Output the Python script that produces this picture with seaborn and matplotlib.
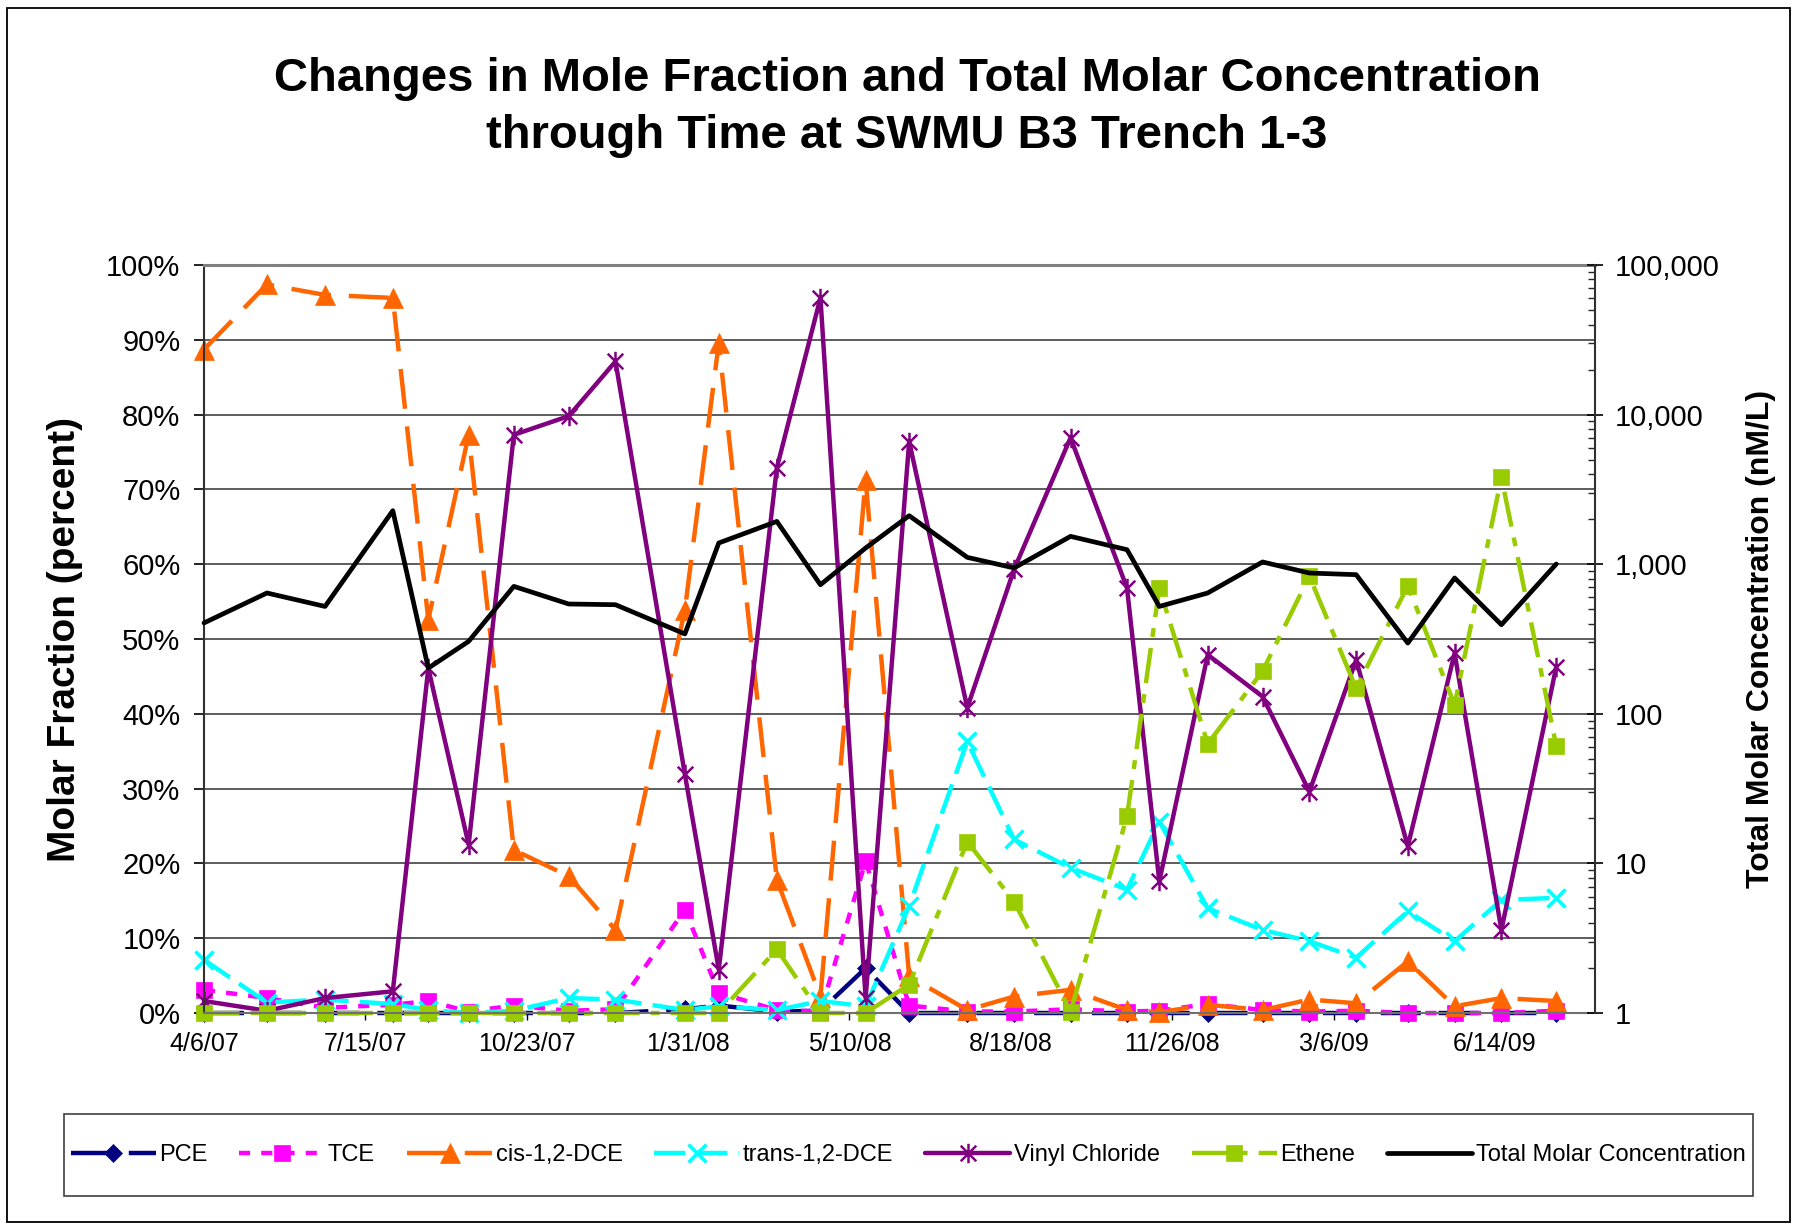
import pandas as pd
import numpy as np
import matplotlib
matplotlib.use("Agg")
import matplotlib.pyplot as plt
import matplotlib.ticker as mticker
from matplotlib.path import Path
from matplotlib.patches import Rectangle
import seaborn as sns

sns.set_theme(style="white")
plt.rcParams["font.family"] = ["Liberation Sans", "DejaVu Sans"]
plt.rcParams["text.color"] = "black"

# 1) Sampling events (read off the chart)
sample_dates = ["2007-04-06", "2007-05-15", "2007-06-20", "2007-08-01", "2007-08-23",
                "2007-09-17", "2007-10-15", "2007-11-18", "2007-12-17", "2008-01-29",
                "2008-02-19", "2008-03-26", "2008-04-22", "2008-05-20", "2008-06-16",
                "2008-07-22", "2008-08-20", "2008-09-24", "2008-10-29", "2008-11-18",
                "2008-12-18", "2009-01-21", "2009-02-19", "2009-03-20", "2009-04-21",
                "2009-05-20", "2009-06-18", "2009-07-22"]

# mole fractions (percent)
pce = [0, 0, 0, 0, 0, 0, 0, 0, 0, 0.5, 1.0, 0.2, 0.3, 6.0, 0, 0, 0, 0, 0, 0,
       0, 0, 0, 0, 0, 0, 0, 0]
tce = [3.1, 2.0, 0.7, 1.1, 1.6, 0.2, 1.0, 0.3, 0.5, 13.8, 2.7, 0.4, 0.2, 20.3,
       1.0, 0.2, 0.2, 0.5, 0.2, 0.3, 1.2, 0.4, 0.2, 0.3, 0.0, 0.0, 0.0, 0.3]
cis_dce = [88.7, 97.4, 96.0, 95.6, 52.6, 77.3, 21.8, 18.3, 11.1, 53.9, 89.6, 17.8,
           2.2, 71.3, 4.9, 0.4, 2.2, 3.1, 0.4, 0.1, 1.1, 0.4, 1.8, 1.3, 6.9, 0.9,
           2.0, 1.6]
trans_dce = [7.1, 1.4, 1.8, 1.2, 0.4, 0.0, 0.3, 2.0, 1.8, 0.4, 0.9, 0.4, 1.6, 0.9,
             14.3, 36.3, 23.2, 19.4, 16.5, 25.6, 14.0, 11.1, 9.6, 7.4, 13.6, 9.6,
             15.1, 15.4]
vinyl_chloride = [1.6, 0.3, 2.0, 2.9, 46.1, 22.5, 77.3, 79.8, 87.1, 31.9, 5.8, 72.9,
                  95.6, 2.0, 76.4, 40.8, 59.3, 76.9, 56.8, 17.6, 47.9, 42.3, 29.6,
                  47.2, 22.3, 48.1, 11.1, 46.3]
ethene = [0, 0, 0, 0, 0, 0, 0, 0, 0, 0, 0, 8.5, 0, 0, 3.8, 22.9, 14.9, 0.2, 26.3,
          56.8, 36.0, 45.7, 58.4, 43.4, 57.1, 41.2, 71.6, 35.7]

# total molar concentration (nM/L)
total_molar = [405, 642, 522, 2279, 202, 305, 711, 542, 536, 342, 1386, 1932, 729,
               1283, 2110, 1111, 944, 1535, 1250, 522, 642, 1035, 873, 851, 297, 809,
               394, 1003]

series_names = ["PCE", "TCE", "cis-1,2-DCE", "trans-1,2-DCE", "Vinyl Chloride", "Ethene"]

tick_dates = ["2007-04-06", "2007-07-15", "2007-10-23", "2008-01-31", "2008-05-10",
              "2008-08-18", "2008-11-26", "2009-03-06", "2009-06-14"]
tick_labels = ["4/6/07", "7/15/07", "10/23/07", "1/31/08", "5/10/08", "8/18/08",
               "11/26/08", "3/6/09", "6/14/09"]
pct_ticks = [0, 10, 20, 30, 40, 50, 60, 70, 80, 90, 100]
pct_labels = ["0%", "10%", "20%", "30%", "40%", "50%", "60%", "70%", "80%", "90%", "100%"]
conc_ticks = [1, 10, 100, 1000, 10000, 100000]
conc_labels = ["1", "10", "100", "1,000", "10,000", "100,000"]

df = pd.DataFrame({
    "date": pd.to_datetime(sample_dates),
    "PCE": pce,
    "TCE": tce,
    "cis-1,2-DCE": cis_dce,
    "trans-1,2-DCE": trans_dce,
    "Vinyl Chloride": vinyl_chloride,
    "Ethene": ethene,
    "Total Molar Concentration": total_molar,
})

# Excel-like "star" marker: an X with a vertical bar
star = Path([(-1, -1), (1, 1), (-1, 1), (1, -1), (0, -1.25), (0, 1.25)],
            [Path.MOVETO, Path.LINETO, Path.MOVETO, Path.LINETO, Path.MOVETO, Path.LINETO])

styles = {
    "PCE":            dict(color="#000080", marker="D", ms=9, mew=0.5, ls=(0, (9, 4))),
    "TCE":            dict(color="#FF00FF", marker="s", ms=12, mew=0.5, ls=(0, (2.5, 2.5))),
    "cis-1,2-DCE":    dict(color="#FF6600", marker="^", ms=15, mew=0.5, ls=(0, (9, 4))),
    "trans-1,2-DCE":  dict(color="#00FFFF", marker="x", ms=13, mew=2.5, ls=(0, (7, 2.5))),
    "Vinyl Chloride": dict(color="#800080", marker=star, ms=14, mew=1.8, ls="-"),
    "Ethene":         dict(color="#99CC00", marker="s", ms=11, mew=0.5, ls=(0, (8, 2.5, 2, 2.5))),
}

W, H = 1797, 1229
fig = plt.figure(figsize=(W / 100, H / 100), dpi=100)
ax = fig.add_axes([204 / W, 1 - 1013 / H, (1595 - 204) / W, (1013 - 265) / H])

handles = []
for name in series_names:
    st = styles[name]
    sns.lineplot(data=df, x="date", y=name, ax=ax, color=st["color"], marker=st["marker"],
                 markersize=st["ms"], markeredgecolor=st["color"], markerfacecolor=st["color"],
                 markeredgewidth=st["mew"], linewidth=3.2, linestyle=st["ls"], clip_on=False)
    handles.append(ax.lines[-1])

ax2 = ax.twinx()
sns.lineplot(data=df, x="date", y="Total Molar Concentration", ax=ax2, color="black",
             linewidth=3.4, clip_on=False)
handles.append(ax2.lines[-1])

# left axis
ax.set_ylim(0, 100)
ax.set_yticks(pct_ticks)
ax.set_yticklabels(pct_labels)
ax.set_xlim(pd.Timestamp("2007-04-06"), pd.Timestamp("2009-08-15"))
ax.set_xticks(pd.to_datetime(tick_dates))
ax.set_xticklabels(tick_labels)
ax.set_xlabel("")
ax.set_ylabel("")
ax.yaxis.grid(True, color="#303030", linewidth=1.1)
ax.xaxis.grid(False)
ax.tick_params(axis="y", direction="out", length=7, width=1.2, labelsize=21, pad=10,
               left=True, colors="black")
ax.tick_params(axis="x", direction="out", length=5, width=1.0, labelsize=18, pad=9,
               bottom=True, colors="black")
ax.spines["top"].set_color("#808080")
ax.spines["top"].set_linewidth(2.2)
ax.spines["bottom"].set_color("#707070")
ax.spines["bottom"].set_linewidth(1.5)
ax.spines["left"].set_color("#303030")
ax.spines["left"].set_linewidth(1.5)
ax.spines["right"].set_visible(False)

# right axis (log)
ax2.set_yscale("log")
ax2.set_ylim(1, 100000)
ax2.set_yticks(conc_ticks)
ax2.set_yticklabels(conc_labels)
ax2.yaxis.set_minor_locator(mticker.LogLocator(base=10, subs=np.arange(2, 10)))
ax2.yaxis.set_minor_formatter(mticker.NullFormatter())
ax2.set_ylabel("")
ax2.tick_params(axis="y", which="major", direction="inout", length=12, width=1.2,
                labelsize=21, pad=8, right=True, colors="black")
ax2.tick_params(axis="y", which="minor", direction="in", length=5, width=1.0, right=True)
for s in ["top", "bottom", "left"]:
    ax2.spines[s].set_visible(False)
ax2.spines["right"].set_color("#303030")
ax2.spines["right"].set_linewidth(1.5)

# titles and axis labels
fig.text(907 / W, 1 - 91 / H, "Changes in Mole Fraction and Total Molar Concentration",
         ha="center", va="baseline", fontsize=34, fontweight="bold", color="black")
fig.text(907 / W, 1 - 148 / H, "through Time at SWMU B3 Trench 1-3",
         ha="center", va="baseline", fontsize=34, fontweight="bold", color="black")
fig.text(65 / W, 1 - 639 / H, "Molar Fraction (percent)", rotation=90,
         ha="center", va="center", fontsize=28, fontweight="bold", color="black")
fig.text(1761 / W, 1 - 639 / H, "Total Molar Concentration (nM/L)", rotation=90,
         ha="center", va="center", fontsize=23, fontweight="bold", color="black")

# legend box + legend
fig.patches.append(Rectangle((64 / W, 1 - 1196 / H), 1689 / W, 82 / H, transform=fig.transFigure,
                             fill=False, edgecolor="#404040", linewidth=1.2))
leg = fig.legend(handles, series_names + ["Total Molar Concentration"], loc="center",
                 bbox_to_anchor=(908 / W, 1 - 1155 / H), ncol=7, frameon=False, fontsize=17,
                 handlelength=3.6, handletextpad=0.15, columnspacing=1.35, numpoints=1)
for t in leg.get_texts():
    t.set_color("black")

# chart border
fig.patches.append(Rectangle((7 / W, 1 - 1222 / H), 1783 / W, 1214 / H, transform=fig.transFigure,
                             fill=False, edgecolor="black", linewidth=1.3))

fig.savefig("out.png", dpi=100)
